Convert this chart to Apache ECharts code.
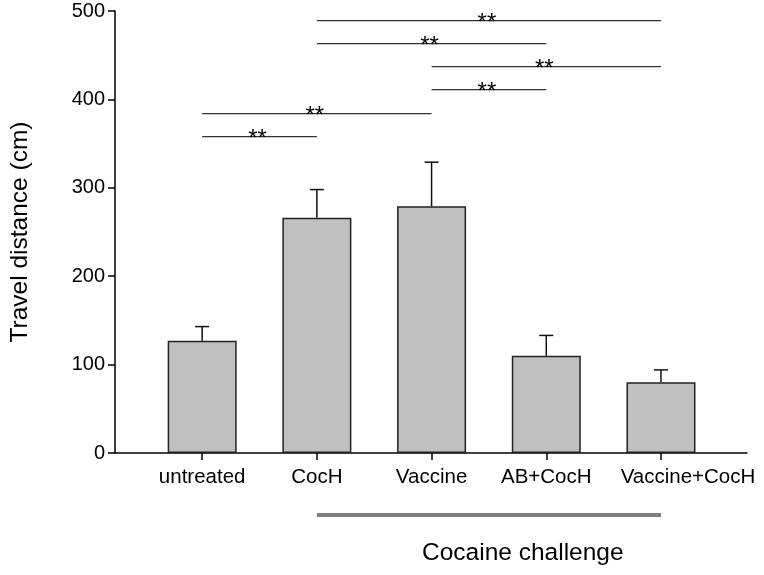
<!DOCTYPE html>
<html>
<head>
<meta charset="utf-8">
<script src="https://cdn.jsdelivr.net/npm/echarts@6/dist/echarts.min.js"></script>
<style>html,body{margin:0;padding:0;background:#fff}#main{width:764px;height:575px}</style>
</head>
<body>
<div id="main"></div>
<script>
// travel distance per group, mean + upper error bar
const groups = ['untreated', 'CocH', 'Vaccine', 'AB+CocH', 'Vaccine+CocH'];
const means = [127, 266, 279, 110, 80];
const errors = [16, 32, 50, 23, 14];
const yTicks = [0, 100, 200, 300, 400, 500];

// significance brackets (group index from -> to, height in cm)
const sigFrom = [0, 0, 2, 2, 1, 1];
const sigTo = [1, 2, 3, 4, 3, 4];
const sigHeight = [358, 384, 411, 437, 463, 489];
const sigLabel = ['**', '**', '**', '**', '**', '**'];

// groups that got the cocaine challenge
const challengeGroups = [1, 4];
const challengeLabel = 'Cocaine challenge';

const font = "'Liberation Sans', Arial, sans-serif";
const chart = echarts.init(document.getElementById('main'));
const idx = groups.map((g, i) => i);

const option = {
    animation: false,
    textStyle: { fontFamily: font },
    title: {
        text: challengeLabel,
        left: 422,
        top: 541,
        padding: 0,
        textStyle: { fontFamily: font, fontSize: 24.5, fontWeight: 'normal', color: '#000' }
    },
    grid: { left: 113, right: 17, top: 11, bottom: 122 },
    xAxis: {
        type: 'value',
        min: -0.76,
        max: 4.75,
        splitLine: { show: false },
        axisLine: { lineStyle: { color: '#000', width: 1.5 } },
        axisTick: { customValues: idx, length: 7, lineStyle: { color: '#000', width: 1.5 } },
        axisLabel: {
            customValues: idx,
            // last label sits a little right of its tick in the original
            formatter: v => {
                const i = Math.round(v);
                return i === groups.length - 1 ? '{r|' + groups[i] + '}' : groups[i];
            },
            rich: { r: { fontSize: 20.5, color: '#000', fontFamily: font, padding: [0, 0, 0, 54] } },
            margin: 14,
            fontSize: 20.5,
            color: '#000',
            fontFamily: font
        }
    },
    yAxis: {
        type: 'value',
        min: yTicks[0],
        max: yTicks[yTicks.length - 1],
        interval: 100,
        name: 'Travel distance (cm)',
        nameLocation: 'middle',
        nameGap: 82,
        nameTextStyle: { fontSize: 24.5, color: '#000', fontFamily: font },
        splitLine: { show: false },
        axisLine: { show: true, onZero: false, lineStyle: { color: '#000', width: 1.5 } },
        axisTick: { show: true, length: 7, lineStyle: { color: '#000', width: 1.5 } },
        axisLabel: { margin: 10, fontSize: 20, color: '#000', fontFamily: font }
    },
    series: [
        {
            type: 'bar',
            data: means.map((v, i) => [i, v]),
            barWidth: 69,
            itemStyle: { color: '#c0c0c0', borderColor: '#222', borderWidth: 1.5 },
            z: 2
        },
        {
            type: 'custom',
            data: means.map((v, i) => [i, v, errors[i]]),
            z: 3,
            renderItem: function (params, api) {
                const x = api.value(0), m = api.value(1), e = api.value(2);
                const p0 = api.coord([x, m]);
                const p1 = api.coord([x, m + e]);
                const st = { stroke: '#111', lineWidth: 1.5 };
                return {
                    type: 'group',
                    children: [
                        { type: 'line', shape: { x1: p0[0], y1: p0[1], x2: p1[0], y2: p1[1] }, style: st },
                        { type: 'line', shape: { x1: p1[0] - 7, y1: p1[1], x2: p1[0] + 7, y2: p1[1] }, style: st }
                    ]
                };
            }
        },
        {
            type: 'custom',
            data: sigFrom.map((f, i) => [f, sigTo[i], sigHeight[i], i]),
            z: 3,
            renderItem: function (params, api) {
                const a = api.coord([api.value(0), api.value(2)]);
                const b = api.coord([api.value(1), api.value(2)]);
                return {
                    type: 'group',
                    children: [
                        { type: 'line', shape: { x1: a[0], y1: a[1], x2: b[0], y2: b[1] }, style: { stroke: '#333', lineWidth: 1.3 } },
                        {
                            type: 'text',
                            x: (a[0] + b[0]) / 2 - 2,
                            y: a[1] + 3,
                            style: {
                                text: sigLabel[api.value(3)],
                                font: '24px ' + font,
                                fill: '#000',
                                align: 'center',
                                verticalAlign: 'middle'
                            }
                        }
                    ]
                };
            }
        },
        {
            type: 'custom',
            clip: false,
            data: [challengeGroups],
            renderItem: function (params, api) {
                const a = api.coord([api.value(0), 0]);
                const b = api.coord([api.value(1), 0]);
                const y = a[1] + 62;
                return {
                    type: 'line',
                    shape: { x1: a[0], y1: y, x2: b[0], y2: y },
                    style: { stroke: '#808080', lineWidth: 4 }
                };
            }
        }
    ]
};
chart.setOption(option);
</script>
</body>
</html>
